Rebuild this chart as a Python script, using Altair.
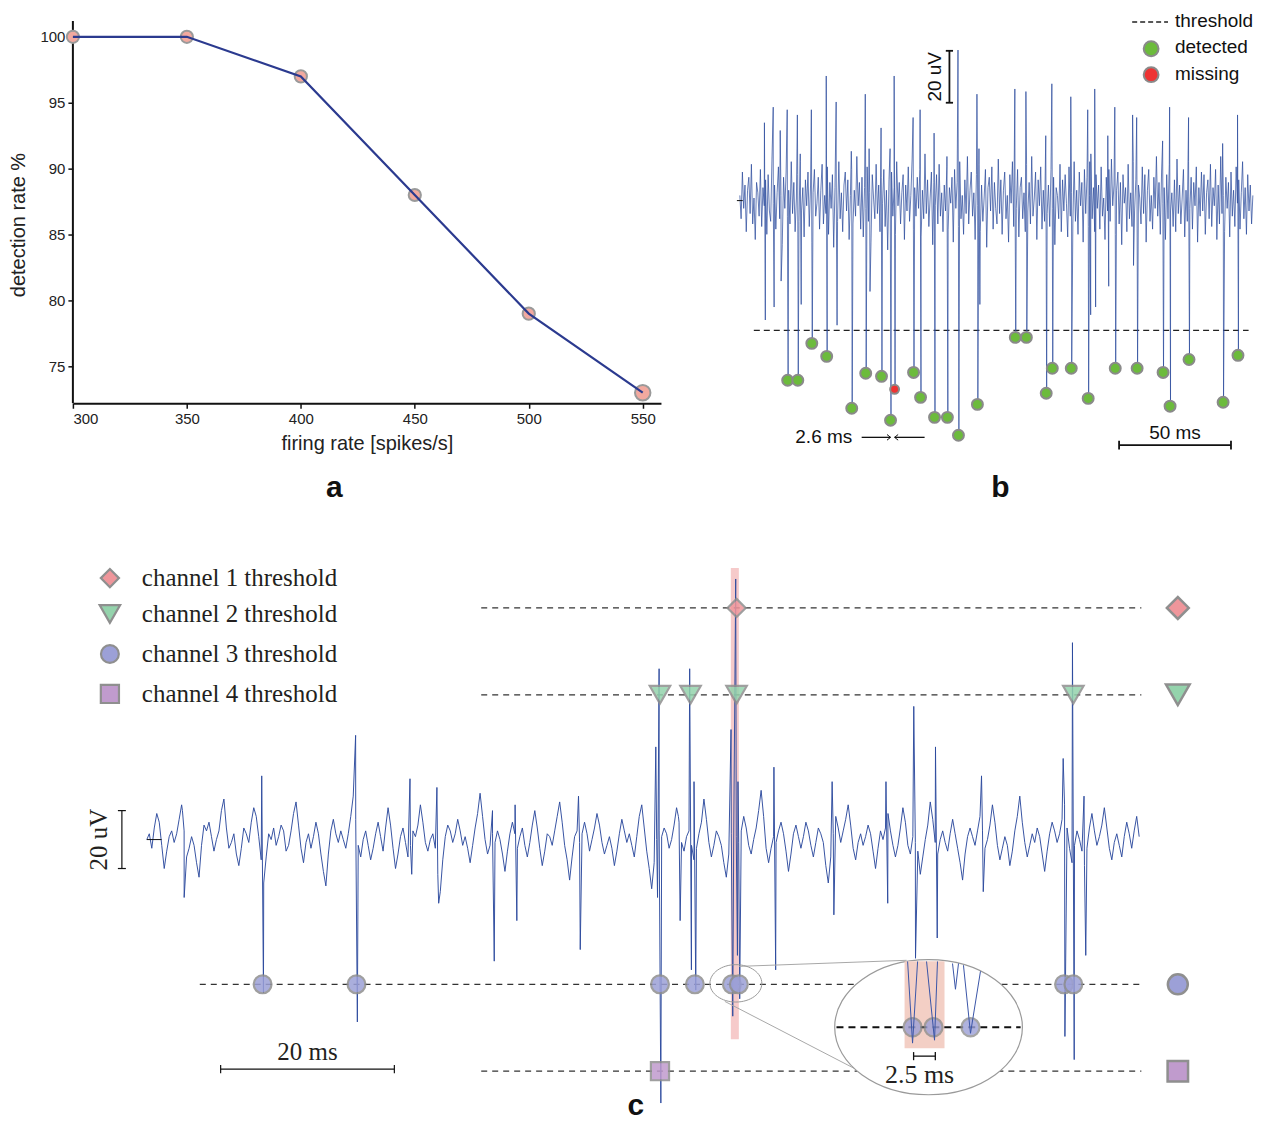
import altair as alt
import pandas as pd

SANS = "Liberation Sans"
SERIF = "Liberation Serif"

# ---------------- panel a data ----------------
rates = [300, 350, 400, 450, 500, 550]
detection = [100, 100, 97, 88, 79, 73]
a_sizes = [150, 150, 150, 150, 150, 240]
a_yticks = [75, 80, 85, 90, 95, 100]

# ---------------- panel b data (ms, uV) ----------------
b_trace_end = 227.4
b_noise = [
    2, -7, 11, -3, 6, -12, 4, 9, -5, 14, -9, 1, -15, 7, 3, -6, 12, -10, 5, -2,
    8, -13, 10, -4, -8, 16, -1, 6, -11, 3, 13, -7, 2, -17, 9, -3, 11, -6, 4, -9,
    15, -5, 7, -12, 1, 10, -8, 18, -4, 5, -14, 8, -2, 11, -10, 6, -16, 3, 12, -6,
    -1, 9, -11, 4, 14, -9, 2, -5, 13, -13, 7, -3, 10, -18, 5, 1, -8, 15, -7, 3,
    -12, 6, 11, -4, 8, -15, 2, 12, -9, 4, -6, 17, -2, 7, -11, 9, -14, 5, -3, 13,
    -8, 3, -16, 10, 1, -7, 14, -5, 6, -12, 9, -1, 12, -10, 4, -19, 8, -4, 11, -6,
    5, -13, 15, -2, 7, -9, 3, 10, -15, 6, -4, 13, -8, 2, 16, -11, 5, -6, 9, -3,
    12, -14, 4, -7, 18, -5, 8, -10, 1, 11, -17, 7, -2, 10, -9, 14, -6, 3, -12, 6,
    -4, 13, -11, 5, -1, 9, -16, 12, -3, 7, -10, 15, -7, 2, -13, 8, -5, 17, -9, 4,
    11, -6, 3, -15, 10, -2, 14, -12, 6, -8, 1, 12, -18, 5, 9, -4, 13, -11, 7, -3,
    -9, 16, -5, 8, -13, 4, 11, -7, 2, -16, 10, -1, 15, -10, 6, -3, 12, -14, 5, 9,
    -7, 3, -12, 14, -4, 7, -9, 17, -6, 1, 11, -15, 8, -2, 13, -11, 4, -8, 16, -5,
    6, -10, 12, -3, 9, -17, 5, 2, -7, 14, -12, 8, -4, 10, -1, -14, 13, -6, 3, -9,
    15, -8, 4, -13, 11, -2, 7, -16, 12, -5, 9, -10, 2, 18, -7, 5, -12, 10, -3, 6,
    -11, 13, -6, 1, -15, 9, -4, 12, -8, 16, -2, 6, -13, 4, 11, -9, 7, -17, 10, -1,
    5, -12, 14, -7, 3, -10, 15, -4, 8, -14, 6, 1, -9, 13, -5, 10, -16, 4, 12, -8,
    2, -11, 9, -3, 17, -6, 7, -13, 11, -1, 5, -15, 10, -7, 14, -4, 3, -10, 8, -12,
    16, -5, 6, -9, 1, 12, -14, 4, -8, 15, -3, 9, -11, 7, -2, 13, -16, 5, -6, 11,
    -4, 10, -13, 3, 8, -7, 14, -10, 5, -2, 12, -15, 6, -9, 17, -5, 2, -12, 9, -3,
    7, -14, 11, -6, 4, -10, 13, -1, 8, -11, 3, 15, -7, 5, -13, 10, -4, 6, -9, 2,
]
b_det_t = [21.2, 25.7, 31.9, 38.5, 49.6, 55.8, 62.8, 66.8, 77.0, 80.1,
           86.3, 92.0, 96.9, 105.3, 122.1, 127.0, 135.8, 138.5, 146.9, 154.4,
           166.4, 176.1, 187.6, 190.7, 199.1, 214.2, 220.8]
b_det_v = [-69.2, -69.2, -55.0, -60.0, -80.0, -66.5, -67.7, -84.6, -66.2, -75.8,
           -83.5, -83.5, -90.4, -78.5, -52.7, -52.7, -74.2, -64.6, -64.6, -76.2,
           -64.6, -64.6, -66.2, -79.2, -61.2, -77.7, -59.6]
b_det_up = [35, 33, 35, 48, 19, 41, 28, 20, 32, 35,
            26, 17, 58, 41, 43, 42, 25, 45, 40, 35,
            36, 32, 23, 36, 32, 22, 33]
b_miss_t = [68.6]
b_miss_v = [-72.7]
b_miss_up = [48]
b_und_t = [11.1, 15.0, 18.1, 27.0, 42.9, 57.5, 106.2, 155.3, 157.5, 163.3, 174.3]
b_und_up = [30, 36, 27, 15, 38, 20, 20, 15, 43, 25, 33]
b_und_down = [-46, -41, -31, -40, -48, -35, -40, -44, -41, -33, -25]
b_threshold = -50

# ---------------- panel c data (ms, uV) ----------------
c_trace_end = 114.25
c_noise = [
    0, 2, -3, 4, 9, 6, -2, -10, -4, 1, 3, -1, 2, 7, 12, 3, -6, -3, 1, -2,
    -8, -13, -2, 5, 3, 6, 1, -4, 0, 3, 10, 14, 4, -3, -1, 2, -5, -9, -3, 4,
    2, -1, 6, 11, 8, 1, -7, -15, -6, 2, 0, 4, -2, 1, 5, 3, -4, -2, 3, 9,
    13, 5, -3, -8, -1, 2, -3, 1, 6, 2, -5, -11, -16, -5, 3, 7, 2, -1, 3, 0,
    -3, 2, 8, 15, 7, -2, -6, 0, 3, -2, -7, -3, 2, 6, 1, -4, 4, 11, 5, -3,
    -10, -5, 1, 4, -1, -6, -2, 3, 1, 5, 12, 6, -1, -4, 0, 2, -3, -12, -18, -7,
    1, 5, 3, -1, 2, 7, 3, -2, 1, -3, -8, -2, 4, 9, 16, 8, 0, -5, -2, 2,
    -1, 3, 0, -5, -11, -4, 2, 6, 2, -3, 1, 4, -2, -6, -1, 5, 10, 4, -3, -9,
    -4, 2, 1, -2, 3, 8, 13, 6, -2, -7, -14, -6, 1, 3, -1, 2, 6, 2, -4, 0,
    4, 9, 5, -1, -5, -2, 1, -3, -9, -4, 2, 7, 3, -1, 2, -2, -6, 1, 8, 12,
    4, -4, -10, -17, -8, 0, 3, 1, 4, 2, -3, 0, 5, 11, 6, -1, -4, 1, 3, -2,
    -7, -3, 2, 6, 14, 7, -1, -6, -2, 3, 1, -2, -8, -13, -5, 2, 4, 1, -1, 3,
    8, 4, -2, -5, 0, 4, 10, 17, 8, -3, -8, -3, 1, -1, 3, 6, 2, -4, -11, -5,
    2, 5, 1, -3, 1, 6, 3, -2, -6, -1, 4, 2, -1, -9, -15, -6, 2, 8, 4, -1,
    3, 7, 12, 5, -3, -7, -1, 2, -2, 1, 5, 2, -4, -10, -3, 3, 0, 4, 9, 3,
    -2, -6, -2, 4, 11, 6, -2, -5, 1, -1, -4, -12, -6, 0, 5, 13, 7, -1, -5, 0,
    3, -1, -4, 2, 7, 2, -3, -8, -14, -5, 1, 4, 1, -2, 3, 8, 3, -3, 0, 5,
    12, 6, -2, -7, -3, 1, -2, -9, -4, 3, 8, 15, 6, -1, -6, -2, 2, -1, 4, 1,
    -5, -11, -4, 2, 6, 3, -1, 2, 7, 12, 4, -3, -8, -2, 3, 0, -4, -9, -3, 4,
    9, 3, -2, 1, 5, 11, 4, -3, -7, -1, 2, -2, -6, 1, 6, 2, -3, 3, 8, 1,
]
c_spk_t = [4.2, 13.33, 24.14, 30.4, 33.5, 39.9, 42.5, 49.8, 58.7, 59.08, 61.3, 62.6,
           63.1, 67.36, 67.9, 68.16, 72.3, 79.0, 85.2, 88.4, 90.9, 96.2, 105.6, 106.67, 108.0]
c_spk_up = [10, 22, 36, 21, 18, 10, 12, 15, 32, 59, 8, 59,
            20, 38, 90, 20, 25, 20, 20, 46, 32, 22, 28, 68, 15]
c_spk_down = [-20, -53, -63, -12, -22, -42, -28, -38, -20, -91, -28, -45,
              -52, -61, -40, -55, -45, -26, -22, -41, -34, -18, -68, -76, -40]

ch_names = ["channel 1 threshold", "channel 2 threshold",
            "channel 3 threshold", "channel 4 threshold"]
ch_shapes = ["diamond", "triangle-down", "circle", "square"]
ch_fill = ["#ef969b", "#94d3ac", "#9ca0d7", "#c09bcd"]
ch_thr = [80, 50, -50, -80]
ch_thr_start = [38.5, 38.5, 6.1, 38.5]
ch_thr_end = [114.5, 114.5, 114.5, 114.5]
ch_hits = [[67.9],
           [59.08, 62.6, 67.9, 106.67],
           [13.33, 24.14, 59.08, 63.1, 67.36, 68.16, 105.6, 106.67],
           [59.08]]
ch_size_line = [330, 420, 320, 330]
ch_size_side = [480, 560, 400, 420]
ch_legend_v = [90.3, 77.9, 64.1, 50.3]
side_t = 118.7
legend_mark_t = -4.25
legend_text_t = -0.57

inset_t = [87.59, 88.16, 88.74, 89.77, 90.69, 91.03, 92.76, 93.10, 93.45, 94.02, 94.83, 95.98]
inset_v = [-42.1, -70.3, -42.1, -42.1, -69.3, -42.1, -42.8, -51.7, -42.8, -43.4, -66.9, -45.5]
inset_grp = [1, 1, 1, 2, 2, 2, 3, 3, 3, 4, 4, 4]
inset_hits = [88.16, 90.57, 94.83]


def build_trace(noise, t_end, spk_t, spk_up, spk_down, half):
    n = len(noise)
    rows = [(i * t_end / (n - 1), v) for i, v in enumerate(noise)]
    for t, u, d in zip(spk_t, spk_up, spk_down):
        rows.append((t - half, u))
        rows.append((t + half, d))
    rows.sort()
    return pd.DataFrame(rows, columns=["t", "v"])


# ======================= PANEL A =======================
df_a = pd.DataFrame({"rate": rates, "det": detection, "sz": a_sizes})
ax_common = dict(labelFont=SANS, labelFontSize=15, labelColor="#222",
                 titleFont=SANS, titleFontSize=20, titleFontWeight="normal",
                 titleColor="#222", tickColor="#111", tickSize=5, tickWidth=1.5,
                 grid=False)
xa = alt.X("rate:Q", scale=alt.Scale(domain=[300, 558], nice=False, zero=False),
           axis=alt.Axis(values=rates, title="firing rate [spikes/s]", domainColor="#111",
                         domainWidth=2, labelPadding=3, titlePadding=7, **ax_common))
ya = alt.Y("det:Q", scale=alt.Scale(domain=[72.2, 102.12], nice=False, zero=False),
           axis=alt.Axis(values=a_yticks, title="detection rate %", domain=False,
                         labelPadding=3, titlePadding=11, titleY=216, **ax_common))

pts_a = alt.Chart(df_a).mark_point(filled=True, fill="#f2a99f", stroke="#9a9a9a",
                                   strokeWidth=2, opacity=1).encode(
    x=xa, y=ya, size=alt.Size("sz:Q", scale=None, legend=None))
line_a = alt.Chart(df_a).mark_line(color="#2b3a8f", strokeWidth=2.2).encode(x=xa, y=ya)
yaxis_line = alt.Chart(pd.DataFrame({"rate": [300], "det": [72.2], "det2": [101.2]})).mark_rule(
    color="#111", strokeWidth=2).encode(x=xa, y=ya, y2=alt.Y2("det2"))
label_a = alt.Chart(pd.DataFrame({"rate": [414.7], "det": [65.08], "lab": ["a"]})).mark_text(
    font=SANS, fontSize=30, fontWeight="bold", baseline="alphabetic", align="center",
    color="#111").encode(x=xa, y=ya, text="lab:N")
panel_a = alt.layer(yaxis_line, pts_a, line_a, label_a).properties(width=589, height=395)

# ======================= PANEL B =======================
SBX = alt.Scale(domain=[-1.33, 227.9], nice=False, zero=False)
SBY = alt.Scale(domain=[-117.3, 73.85], nice=False, zero=False)


def bx(f):
    return alt.X(f, type="quantitative", scale=SBX, axis=None)


def by(f):
    return alt.Y(f, type="quantitative", scale=SBY, axis=None)


b_trace = build_trace(
    b_noise, b_trace_end,
    b_det_t + b_miss_t + b_und_t,
    b_det_up + b_miss_up + b_und_up,
    b_det_v + b_miss_v + b_und_down, 0.2)

b_layers = []
b_layers.append(alt.Chart(pd.DataFrame({"t": [6.2], "t2": [225.5], "v": [b_threshold]})).mark_rule(
    color="#222", strokeWidth=1.3, strokeDash=[6, 4]).encode(x=bx("t"), x2=alt.X2("t2"), y=by("v")))
b_layers.append(alt.Chart(b_trace).mark_line(color="#2a4a9c", strokeWidth=0.85, opacity=0.85).encode(
    x=bx("t"), y=by("v")))
b_layers.append(alt.Chart(pd.DataFrame({"t": [-1.3], "t2": [1.3], "v": [0]})).mark_rule(
    color="#111", strokeWidth=1).encode(x=bx("t"), x2=alt.X2("t2"), y=by("v")))
b_layers.append(alt.Chart(pd.DataFrame({"t": b_det_t, "v": b_det_v})).mark_point(
    shape="circle", filled=True, fill="#6cbb3c", stroke="#8a8a8a", strokeWidth=2, size=120,
    opacity=1).encode(x=bx("t"), y=by("v")))
b_layers.append(alt.Chart(pd.DataFrame({"t": b_miss_t, "v": b_miss_v})).mark_point(
    shape="circle", filled=True, fill="#ee3333", stroke="#8a8a8a", strokeWidth=2, size=80,
    opacity=1).encode(x=bx("t"), y=by("v")))
# 20 uV scale bar
b_layers.append(alt.Chart(pd.DataFrame({"t": [92.9], "v": [37.7], "v2": [57.7]})).mark_rule(
    color="#111", strokeWidth=1.8).encode(x=bx("t"), y=by("v"), y2=alt.Y2("v2")))
b_layers.append(alt.Chart(pd.DataFrame({"t": [91.3, 91.3], "t2": [94.5, 94.5], "v": [37.7, 57.7]})).mark_rule(
    color="#111", strokeWidth=1.8).encode(x=bx("t"), x2=alt.X2("t2"), y=by("v")))
b_layers.append(alt.Chart(pd.DataFrame({"t": [86.3], "v": [47.7], "lab": ["20 uV"]})).mark_text(
    font=SANS, fontSize=19, angle=270, align="center", baseline="middle", color="#111").encode(
    x=bx("t"), y=by("v"), text="lab:N"))
# 50 ms scale bar
b_layers.append(alt.Chart(pd.DataFrame({"t": [168.1], "t2": [217.7], "v": [-94.2]})).mark_rule(
    color="#111", strokeWidth=1.8).encode(x=bx("t"), x2=alt.X2("t2"), y=by("v")))
b_layers.append(alt.Chart(pd.DataFrame({"t": [168.1, 217.7], "v": [-92.5, -92.5], "v2": [-95.9, -95.9]})).mark_rule(
    color="#111", strokeWidth=1.8).encode(x=bx("t"), y=by("v"), y2=alt.Y2("v2")))
b_layers.append(alt.Chart(pd.DataFrame({"t": [192.9], "v": [-89.6], "lab": ["50 ms"]})).mark_text(
    font=SANS, fontSize=19, align="center", baseline="middle", color="#111").encode(
    x=bx("t"), y=by("v"), text="lab:N"))
# 2.6 ms annotation
b_layers.append(alt.Chart(pd.DataFrame({"t": [37.2], "v": [-91.2], "lab": ["2.6 ms"]})).mark_text(
    font=SANS, fontSize=19, align="center", baseline="middle", color="#111").encode(
    x=bx("t"), y=by("v"), text="lab:N"))
b_layers.append(alt.Chart(pd.DataFrame({"t": [54.0, 68.6], "t2": [66.8, 81.9], "v": [-91.2, -91.2]})).mark_rule(
    color="#111", strokeWidth=1.3).encode(x=bx("t"), x2=alt.X2("t2"), y=by("v")))
b_layers.append(alt.Chart(pd.DataFrame({"t": [66.8], "v": [-91.2]})).mark_point(
    shape="M -1 -0.8 L 0 0 L -1 0.8", filled=False, stroke="#111", strokeWidth=1, size=50,
    opacity=1).encode(x=bx("t"), y=by("v")))
b_layers.append(alt.Chart(pd.DataFrame({"t": [68.6], "v": [-91.2]})).mark_point(
    shape="M 1 -0.8 L 0 0 L 1 0.8", filled=False, stroke="#111", strokeWidth=1, size=50,
    opacity=1).encode(x=bx("t"), y=by("v")))
# legend
b_layers.append(alt.Chart(pd.DataFrame({"t": [173.9], "t2": [189.8], "v": [68.8]})).mark_rule(
    color="#222", strokeWidth=1.3, strokeDash=[5, 3]).encode(x=bx("t"), x2=alt.X2("t2"), y=by("v")))
b_layers.append(alt.Chart(pd.DataFrame({"t": [182.3, 182.3], "v": [58.5, 48.5],
                                        "f": ["#6cbb3c", "#ee3333"]})).mark_point(
    shape="circle", filled=True, stroke="#8a8a8a", strokeWidth=2, size=220, opacity=1).encode(
    x=bx("t"), y=by("v"), fill=alt.Fill("f:N", scale=None)))
b_layers.append(alt.Chart(pd.DataFrame({"t": [192.9, 192.9, 192.9], "v": [69.3, 59.0, 48.7],
                                        "lab": ["threshold", "detected", "missing"]})).mark_text(
    font=SANS, fontSize=19, align="left", baseline="middle", color="#111").encode(
    x=bx("t"), y=by("v"), text="lab:N"))
b_layers.append(alt.Chart(pd.DataFrame({"t": [115.5], "v": [-114.2], "lab": ["b"]})).mark_text(
    font=SANS, fontSize=30, fontWeight="bold", align="center", baseline="alphabetic", color="#111").encode(
    x=bx("t"), y=by("v"), text="lab:N"))
panel_b = alt.layer(*b_layers).properties(width=518, height=497)

# ======================= PANEL C =======================
SCX = alt.Scale(domain=[-8.51, 127.24], nice=False, zero=False)
SCY = alt.Scale(domain=[-95.86, 103.45], nice=False, zero=False)


def cx(f):
    return alt.X(f, type="quantitative", scale=SCX, axis=None)


def cy(f):
    return alt.Y(f, type="quantitative", scale=SCY, axis=None)


c_trace = build_trace(c_noise, c_trace_end, c_spk_t, c_spk_up, c_spk_down, 0.1)
ELLIPSE = "M -1 0 A 1 0.72 0 1 0 1 0 A 1 0.72 0 1 0 -1 0 Z"

c_layers = []
# pink highlight band
c_layers.append(alt.Chart(pd.DataFrame({"t": [67.24], "t2": [68.16], "v": [93.8], "v2": [-69.0]})).mark_rect(
    color="#f5c4c4", opacity=0.9).encode(x=cx("t"), x2=alt.X2("t2"), y=cy("v"), y2=alt.Y2("v2")))
# threshold lines
c_layers.append(alt.Chart(pd.DataFrame({"t": ch_thr_start, "t2": ch_thr_end, "v": ch_thr})).mark_rule(
    color="#333", strokeWidth=1.3, strokeDash=[6, 5]).encode(x=cx("t"), x2=alt.X2("t2"), y=cy("v")))
# trace
c_layers.append(alt.Chart(c_trace).mark_line(color="#2c4a9e", strokeWidth=1.0, opacity=0.95).encode(
    x=cx("t"), y=cy("v")))
c_layers.append(alt.Chart(pd.DataFrame({"t": [0], "t2": [1.7], "v": [0]})).mark_rule(
    color="#111", strokeWidth=1).encode(x=cx("t"), x2=alt.X2("t2"), y=cy("v")))
# markers on threshold lines, at the right side and in the legend
for k in range(4):
    dfk = pd.DataFrame({"t": ch_hits[k], "v": [ch_thr[k]] * len(ch_hits[k])})
    c_layers.append(alt.Chart(dfk).mark_point(
        shape=ch_shapes[k], filled=True, fill=ch_fill[k], stroke="#8f8f8f", strokeWidth=2.2,
        size=ch_size_line[k], opacity=0.85).encode(x=cx("t"), y=cy("v")))
    c_layers.append(alt.Chart(pd.DataFrame({"t": [side_t], "v": [ch_thr[k]]})).mark_point(
        shape=ch_shapes[k], filled=True, fill=ch_fill[k], stroke="#8f8f8f", strokeWidth=2.5,
        size=ch_size_side[k], opacity=1).encode(x=cx("t"), y=cy("v")))
    c_layers.append(alt.Chart(pd.DataFrame({"t": [legend_mark_t], "v": [ch_legend_v[k]]})).mark_point(
        shape=ch_shapes[k], filled=True, fill=ch_fill[k], stroke="#8f8f8f", strokeWidth=2.2,
        size=ch_size_line[k], opacity=1).encode(x=cx("t"), y=cy("v")))
# legend text
c_layers.append(alt.Chart(pd.DataFrame({"t": [legend_text_t] * 4, "v": ch_legend_v, "lab": ch_names})).mark_text(
    font=SERIF, fontSize=25, align="left", baseline="middle", color="#231f20").encode(
    x=cx("t"), y=cy("v"), text="lab:N"))
# zoom connectors
c_layers.append(alt.Chart(pd.DataFrame({"t": [68.16, 66.55], "v": [-43.8, -55.9],
                                        "t2": [87.47, 82.07], "v2": [-41.7, -80.0]})).mark_rule(
    color="#a8a8a8", strokeWidth=1).encode(x=cx("t"), y=cy("v"), x2=alt.X2("t2"), y2=alt.Y2("v2")))
c_layers.append(alt.Chart(pd.DataFrame({"t": [67.82], "v": [-49.66]})).mark_point(
    shape=ELLIPSE, filled=False, stroke="#9a9a9a", strokeWidth=1, size=2704, opacity=1).encode(
    x=cx("t"), y=cy("v")))
c_layers.append(alt.Chart(pd.DataFrame({"t": [90.0], "v": [-64.8]})).mark_point(
    shape=ELLIPSE, filled=True, fill="#ffffff", stroke="#9a9a9a", strokeWidth=1.2, size=35344,
    opacity=1).encode(x=cx("t"), y=cy("v")))
# inset content
c_layers.append(alt.Chart(pd.DataFrame({"t": [87.24], "t2": [91.84], "v": [-42.07], "v2": [-72.07]})).mark_rect(
    color="#f3cfc5", opacity=1).encode(x=cx("t"), x2=alt.X2("t2"), y=cy("v"), y2=alt.Y2("v2")))
c_layers.append(alt.Chart(pd.DataFrame({"t": [79.4], "t2": [100.6], "v": [-64.83]})).mark_rule(
    color="#111", strokeWidth=2.2, strokeDash=[7, 5]).encode(x=cx("t"), x2=alt.X2("t2"), y=cy("v")))
c_layers.append(alt.Chart(pd.DataFrame({"t": inset_hits, "v": [-64.83] * 3})).mark_point(
    shape="circle", filled=True, fill=ch_fill[2], stroke="#8f8f8f", strokeWidth=2.2, size=330,
    opacity=0.8).encode(x=cx("t"), y=cy("v")))
c_layers.append(alt.Chart(pd.DataFrame({"t": inset_t, "v": inset_v, "g": inset_grp})).mark_line(
    color="#3a55a8", strokeWidth=1).encode(x=cx("t"), y=cy("v"), detail="g:N"))
c_layers.append(alt.Chart(pd.DataFrame({"t": [88.28], "t2": [90.78], "v": [-74.8]})).mark_rule(
    color="#111", strokeWidth=1.3).encode(x=cx("t"), x2=alt.X2("t2"), y=cy("v")))
c_layers.append(alt.Chart(pd.DataFrame({"t": [88.28, 90.78], "v": [-73.4, -73.4], "v2": [-76.2, -76.2]})).mark_rule(
    color="#111", strokeWidth=1.3).encode(x=cx("t"), y=cy("v"), y2=alt.Y2("v2")))
c_layers.append(alt.Chart(pd.DataFrame({"t": [88.97], "v": [-81.4], "lab": ["2.5 ms"]})).mark_text(
    font=SERIF, fontSize=26, align="center", baseline="middle", color="#231f20").encode(
    x=cx("t"), y=cy("v"), text="lab:N"))
# 20 uV scale bar
c_layers.append(alt.Chart(pd.DataFrame({"t": [-2.87], "v": [10.0], "v2": [-10.0]})).mark_rule(
    color="#111", strokeWidth=1.2).encode(x=cx("t"), y=cy("v"), y2=alt.Y2("v2")))
c_layers.append(alt.Chart(pd.DataFrame({"t": [-3.33, -3.33], "t2": [-2.41, -2.41], "v": [10.0, -10.0]})).mark_rule(
    color="#111", strokeWidth=1.2).encode(x=cx("t"), x2=alt.X2("t2"), y=cy("v")))
c_layers.append(alt.Chart(pd.DataFrame({"t": [-5.52], "v": [0], "lab": ["20 uV"]})).mark_text(
    font=SERIF, fontSize=25, angle=270, align="center", baseline="middle", color="#231f20").encode(
    x=cx("t"), y=cy("v"), text="lab:N"))
# 20 ms scale bar
c_layers.append(alt.Chart(pd.DataFrame({"t": [8.5], "t2": [28.5], "v": [-79.3]})).mark_rule(
    color="#111", strokeWidth=1.2).encode(x=cx("t"), x2=alt.X2("t2"), y=cy("v")))
c_layers.append(alt.Chart(pd.DataFrame({"t": [8.5, 28.5], "v": [-77.9, -77.9], "v2": [-80.7, -80.7]})).mark_rule(
    color="#111", strokeWidth=1.2).encode(x=cx("t"), y=cy("v"), y2=alt.Y2("v2")))
c_layers.append(alt.Chart(pd.DataFrame({"t": [18.5], "v": [-73.4], "lab": ["20 ms"]})).mark_text(
    font=SERIF, fontSize=25, align="center", baseline="middle", color="#231f20").encode(
    x=cx("t"), y=cy("v"), text="lab:N"))
c_layers.append(alt.Chart(pd.DataFrame({"t": [56.3], "v": [-95.3], "lab": ["c"]})).mark_text(
    font=SANS, fontSize=30, fontWeight="bold", align="center", baseline="alphabetic", color="#111").encode(
    x=cx("t"), y=cy("v"), text="lab:N"))
panel_c = alt.layer(*c_layers).properties(width=1181, height=578)

# ======================= LAYOUT =======================
row1 = alt.hconcat(panel_a, panel_b, spacing=75)
chart = alt.vconcat(row1, panel_c, spacing=35).properties(
    padding=0, background="white").configure_view(stroke="transparent", strokeWidth=0)

chart.save("out.html", embed_options={"renderer": "svg", "actions": False})
